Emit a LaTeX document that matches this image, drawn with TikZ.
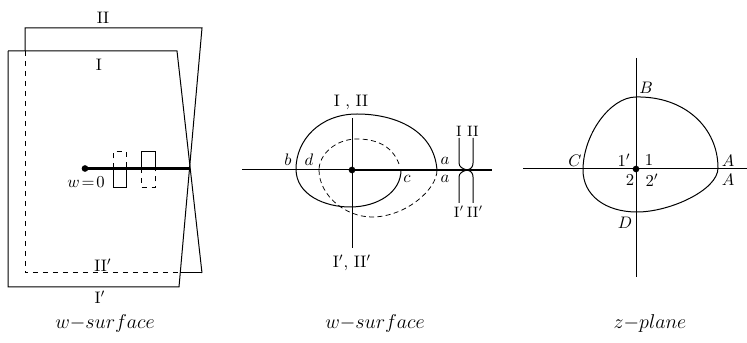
\documentclass[tikz,border=0pt]{standalone}
\usepackage{amsmath,amssymb}
\usepackage{tikz}
\usetikzlibrary{calc}

\begin{document}
\begin{tikzpicture}[x=0.6pt, y=-0.6pt, line width=0.6pt,
    cut/.style={line width=1.4pt},
    dotnode/.style={circle, fill, inner sep=0pt, minimum size=4pt},
    thindash/.style={line width=0.45pt, dash pattern=on 3pt off 2pt},
    lbl/.style={inner sep=0.5pt},
    caption/.style={font=\large}]
    \useasboundingbox (0,0) rectangle (747,343);
    % left: the two sheets of the w-surface
    \draw (8,51) -- (177,51) -- (202,273);
    \draw (8,51) -- (8,287) -- (179,287) -- (202,28) -- (25,28) -- (25,51);
    \draw[dashed] (25,51) -- (25,273) -- (180,273);
    \draw (180,273) -- (202,273);
    \node[dotnode] (o1) at (85,168.5) {};
    \coordinate (x1) at (190,168.5);
    \draw[cut] (o1.center) -- (x1);
    \draw[dashed] (113,168.5) -- (113,152) -- (126,152) -- (126,168.5);
    \draw (113,168.5) -- (113,188) -- (126,188) -- (126,168.5);
    \draw (141,168.5) -- (141,152) -- (155,152) -- (155,168.5);
    \draw[dashed] (141,168.5) -- (141,188) -- (155,188) -- (155,168.5);
    \node[lbl] (w0) at (86,182) {$w\!=\!0$};
    \node[lbl] (s2) at (103,18) {II};
    \node[lbl] (s1) at (99,65) {I};
    \node[lbl] (s2p) at (103,265) {II$'$};
    \node[lbl] (s1p) at (100,297) {I$'$};
    \node[caption] (cap1) at (105,324) {$w{-}surface$};

    % middle: the path on the w-surface
    \coordinate (wl) at (242,170);
    \coordinate (wr) at (492,170);
    \coordinate (wt) at (352,118);
    \coordinate (wb) at (352,248);
    \node[dotnode] (o2) at (352,170) {};
    \draw (wl) -- (o2.center);
    \draw[cut] (o2.center) -- (wr);
    \draw (wt) -- (wb);
    \draw (437,170) .. controls (434,130) and (395,114) .. (357,114)
                    .. controls (320,114) and (296,140) .. (296,169);
    \draw (296,169) .. controls (296,195) and (325,207) .. (350,207)
                    .. controls (378,207) and (401,192) .. (401,170);
    \draw[thindash] (399,164) .. controls (392,145) and (375,139) .. (357,139)
                    .. controls (335,139) and (319,155) .. (319,170);
    \draw[thindash] (319,170) .. controls (319,195) and (345,217) .. (372,217)
                    .. controls (405,217) and (437,190) .. (437,170);
    \draw (459,138) -- (459,163) .. controls (459,167) and (463,169) .. (467,170) .. controls (471,169) and (473,167) .. (473,163) -- (473,138);
    \draw (459,203) -- (459,177) .. controls (459,173) and (463,171) .. (467,170) .. controls (471,171) and (473,173) .. (473,177) -- (473,203);
    \node[lbl] (lb) at (288,160) {$b$};
    \node[lbl] (ld) at (309,160) {$d$};
    \node[lbl] (la) at (445,161) {$a$};
    \node[lbl] (lc) at (407,179) {$c$};
    \node[lbl] (la2) at (445,179) {$a$};
    \node[lbl] (u1) at (459,131) {\small I};
    \node[lbl] (u2) at (473,131) {\small II};
    \node[lbl] (d1) at (459,212) {\small I$'$};
    \node[lbl] (d2) at (475,212) {\small II$'$};
    \node[lbl] (top2) at (351,102) {I , II};
    \node[lbl] (bot2) at (352,263) {I$'$, II$'$};
    \node[caption] (cap2) at (375,324) {$w{-}surface$};

    % right: the z-plane
    \coordinate (zl) at (523,169);
    \coordinate (zr) at (747,169);
    \coordinate (zt) at (636,58);
    \coordinate (zb) at (636,277);
    \node[dotnode] (o3) at (636,169) {};
    \draw (zl) -- (zr);
    \draw (zt) -- (zb);
    \draw (636,97) .. controls (685,96) and (718,128) .. (718,168)
                   .. controls (718,190) and (670,212) .. (637,212)
                   .. controls (605,212) and (583,195) .. (583,170)
                   .. controls (583,135) and (610,97) .. (636,97) -- cycle;
    \node[lbl] (lB) at (646,88) {$B$};
    \node[lbl] (lC) at (575,161) {$C$};
    \node[lbl] (lA) at (728,161) {$A$};
    \node[lbl] (lA2) at (728,180) {$A$};
    \node[lbl] (lD) at (625,223) {$D$};
    \node[lbl] (n1p) at (624,160) {$1'$};
    \node[lbl] (n1) at (649,160) {$1$};
    \node[lbl] (n2) at (630,180) {$2$};
    \node[lbl] (n2p) at (652,180) {$2'$};
    \node[caption] (cap3) at (650,324) {$z{-}plane$};
\end{tikzpicture}
\end{document}
